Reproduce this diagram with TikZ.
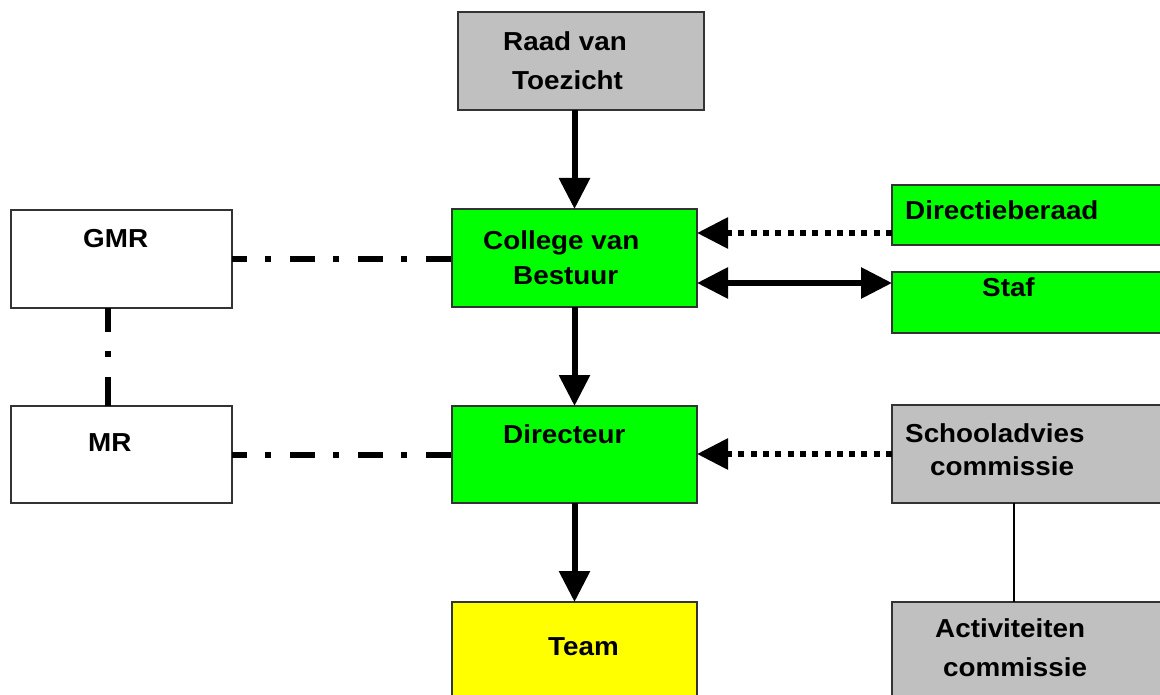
\documentclass[tikz,border=0pt]{standalone}
\usepackage{fontspec}
\setmainfont{Liberation Sans}[FakeStretch=1.07]
\usetikzlibrary{arrows.meta}
\begin{document}
\begin{tikzpicture}[x=1pt,y=-1pt,
  box/.style={draw=black!80, line width=1.3pt, inner sep=0pt, outer sep=0pt, anchor=north west},
  lbl/.style={font=\bfseries\fontsize{26}{30}\selectfont, inner sep=0pt, anchor=base west},
  tip/.style={-{Triangle[length=31pt,width=30pt]}},
  solidarr/.style={line width=6pt, tip},
  dotarr/.style={line width=6pt, tip, dash pattern=on 6pt off 6.3pt},
  dashdot/.style={line width=6pt, dash pattern=on 25pt off 18pt on 6pt off 19pt, dash phase=10pt},
  vdashdot/.style={line width=6pt, dash pattern=on 24pt off 19pt on 6pt off 20pt on 40pt off 0pt},
  thin/.style={line width=1.6pt}]
\useasboundingbox (0,0) rectangle (1160,695);
\definecolor{grijs}{HTML}{C0C0C0}
\definecolor{groen}{HTML}{00FF00}
\definecolor{geel}{HTML}{FFFF00}
% boxes
\node[box, fill=grijs, minimum width=246pt, minimum height=98pt] (raad) at (458,12) {};
\node[box, fill=groen, minimum width=245pt, minimum height=98pt] (college) at (452,209) {};
\node[box, fill=groen, minimum width=245pt, minimum height=97pt] (direc) at (452,406) {};
\node[box, fill=geel, minimum width=245pt, minimum height=110pt] (team) at (452,602) {};
\node[box, fill=white, minimum width=221pt, minimum height=98pt] (gmr) at (11,210) {};
\node[box, fill=white, minimum width=221pt, minimum height=97pt] (mr) at (11,406) {};
\node[box, fill=groen, minimum width=280pt, minimum height=60pt] (dberaad) at (892,185) {};
\node[box, fill=groen, minimum width=280pt, minimum height=61pt] (staf) at (892,272) {};
\node[box, fill=grijs, minimum width=280pt, minimum height=98pt] (school) at (892,405) {};
\node[box, fill=grijs, minimum width=280pt, minimum height=110pt] (activ) at (892,602) {};
% texts
\node[lbl] (raad1) at (503,51) {Raad van};
\node[lbl] (raad2) at (512,90) {Toezicht};
\node[lbl] (coll1) at (483,250) {College van};
\node[lbl] (coll2) at (513,285) {Bestuur};
\node[lbl] (dirt) at (503,443) {Directeur};
\node[lbl] (teamt) at (548,655) {Team};
\node[lbl] (gmrt) at (83,248) {GMR};
\node[lbl] (mrt) at (88,451) {MR};
\node[lbl] (dbt) at (905,220) {Directieberaad};
\node[lbl] (staft) at (982,297) {Staf};
\node[lbl] (sch1) at (905,442) {Schooladvies};
\node[lbl] (sch2) at (930,475) {commissie};
\node[lbl] (act1) at (935,637) {Activiteiten};
\node[lbl] (act2) at (943,676) {commissie};
% connectors
\draw[solidarr] (college.north |- raad.south) -- (college.north);
\draw[solidarr] (college.south) -- (direc.north);
\draw[solidarr] (direc.south) -- (team.north);
\draw[dotarr] (dberaad.west |- 0,233) -- (college.east |- 0,233);
\draw[line width=6pt, {Triangle[length=31pt,width=30pt]}-{Triangle[length=31pt,width=30pt]}] (college.east |- 0,283) -- (staf.west |- 0,283);
\draw[dotarr] (school.west |- 0,454) -- (direc.east |- 0,454);
\draw[dashdot] (gmr.east |- 0,259) -- (college.west |- 0,259);
\draw[dashdot] (mr.east |- 0,455) -- (direc.west |- 0,455);
\draw[vdashdot] (108,0 |- gmr.south) -- (108,0 |- mr.north);
\draw[thin] (1014,0 |- school.south) -- (1014,0 |- activ.north);
\end{tikzpicture}
\end{document}
